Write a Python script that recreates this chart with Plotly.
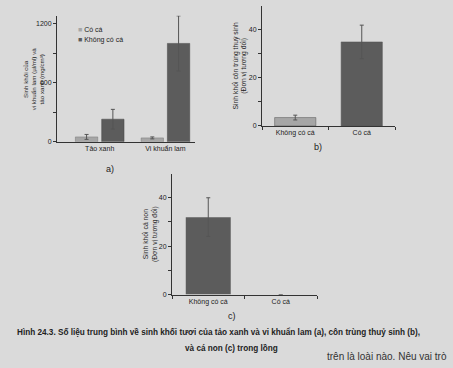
import plotly.graph_objects as go

# ---- data ----
groups_a = ["Tảo xanh", "Vi khuẩn lam"]
co_ca_a = [50, 40]
co_ca_a_err = [25, 10]
khong_ca_a = [230, 1000]
khong_ca_a_err = [100, 280]

cats_b = ["Không có cá", "Có cá"]
vals_b = [3.5, 35]
err_b = [1, 7]

cats_c = ["Không có cá", "Có cá"]
vals_c = [32, 0]
err_c = [8, None]

LIGHT = "#a6a6a6"
DARK = "#5c5c5c"
BG = "#dadada"
AX = "#333333"
FONT = "Liberation Sans"

fig = go.Figure()

fig.add_trace(go.Bar(x=groups_a, y=co_ca_a, name="Có cá", marker_color=LIGHT,
                     marker_line=dict(color="#777", width=0.5),
                     error_y=dict(type="data", array=co_ca_a_err, color="#555", thickness=1, width=2),
                     xaxis="x", yaxis="y"))
fig.add_trace(go.Bar(x=groups_a, y=khong_ca_a, name="Không có cá", marker_color=DARK,
                     marker_line=dict(color="#444", width=0.5),
                     error_y=dict(type="data", array=khong_ca_a_err, color="#555", thickness=1, width=2),
                     xaxis="x", yaxis="y"))

fig.add_trace(go.Bar(x=cats_b, y=vals_b, marker_color=[LIGHT, DARK], width=0.62,
                     marker_line=dict(color="#555", width=0.5),
                     error_y=dict(type="data", array=err_b, color="#555", thickness=1, width=2),
                     showlegend=False, xaxis="x2", yaxis="y2"))

fig.add_trace(go.Bar(x=cats_c, y=vals_c, marker_color=[DARK, DARK], width=0.62,
                     marker_line=dict(width=0),
                     error_y=dict(type="data", array=err_c, color="#555", thickness=1, width=2),
                     showlegend=False, xaxis="x3", yaxis="y3"))

W, H = 453, 368
def px(x):
    return x / W
def py(y):
    return 1 - y / H

axis_common = dict(showline=True, linecolor=AX, linewidth=1, showgrid=False, zeroline=False,
                   tickfont=dict(family=FONT, size=7, color="#222"), fixedrange=True)

fig.update_layout(
    width=W, height=H,
    margin=dict(l=0, r=0, t=0, b=0),
    paper_bgcolor=BG, plot_bgcolor=BG,
    barmode="group", bargap=0.2, bargroupgap=0.15,
    font=dict(family=FONT, color="#222"),
    showlegend=False,
    xaxis=dict(domain=[px(57), px(195)], range=[-0.65, 1.45], anchor="y",
               ticks="", **axis_common),
    yaxis=dict(domain=[py(143), py(16)], range=[0, 1280], anchor="x",
               tickvals=[0, 300, 600, 900, 1200], ticktext=["0", "", "600", "", "1200"],
               ticks="outside", ticklen=3, tickcolor=AX, **axis_common),
    xaxis2=dict(domain=[px(262), px(395)], range=[-0.5, 1.5], anchor="y2",
                ticks="outside", tickson="boundaries", ticklen=3, tickcolor=AX, **axis_common),
    yaxis2=dict(domain=[py(127), py(6)], range=[0, 50], anchor="x2",
                tickvals=[0, 10, 20, 30, 40], ticktext=["0", "", "20", "", "40"],
                ticks="outside", ticklen=3, tickcolor=AX, **axis_common),
    xaxis3=dict(domain=[px(172), px(317)], range=[-0.5, 1.5], anchor="y3",
                ticks="outside", tickson="boundaries", ticklen=3, tickcolor=AX, **axis_common),
    yaxis3=dict(domain=[py(297), py(175)], range=[0, 50], anchor="x3",
                tickvals=[0, 10, 20, 30, 40], ticktext=["0", "", "20", "", "40"],
                ticks="outside", ticklen=3, tickcolor=AX, **axis_common),
)

ann = [
    dict(x=px(76), y=py(30), xanchor="left",
         text=f'<span style="color:{LIGHT}">■</span> Có cá', font=dict(size=7)),
    dict(x=px(76), y=py(40), xanchor="left",
         text=f'<span style="color:{DARK}">■</span> Không có cá', font=dict(size=7)),
    dict(x=px(33), y=py(80), text="Sinh khối của<br>vi khuẩn lam (µl/ml) và<br>tảo xanh (mg/cm³)",
         textangle=-90, font=dict(size=6.2)),
    dict(x=px(240), y=py(66), text="Sinh khối côn trùng thuỷ sinh<br>(Đơn vị tương đối)",
         textangle=-90, font=dict(size=6.8)),
    dict(x=px(150), y=py(236), text="Sinh khối cá non<br>(Đơn vị tương đối)",
         textangle=-90, font=dict(size=6.8)),
    dict(x=px(110), y=py(170), text="a)", font=dict(size=9)),
    dict(x=px(318), y=py(148), text="b)", font=dict(size=9)),
    dict(x=px(232), y=py(319), text="c)", font=dict(size=9)),
    dict(x=px(218), y=py(335),
         text="<b>Hình 24.3. Số liệu trung bình về sinh khối tươi của tảo xanh và vi khuẩn lam (a), côn trùng thuỷ sinh (b),</b>",
         font=dict(size=8.2)),
    dict(x=px(232), y=py(351), text="<b>và cá non (c) trong lồng</b>",
         font=dict(size=8.2)),
    dict(x=px(449), y=py(359), text="trên là loài nào. Nêu vai trò", xanchor="right",
         font=dict(size=10, color="#333")),
]
for a in ann:
    a.setdefault("xanchor", "center")
    a.update(xref="paper", yref="paper", showarrow=False, yanchor="middle")
    a["font"].setdefault("family", FONT)
    a["font"].setdefault("color", "#222")
fig.update_layout(annotations=ann)

fig.write_html("out.html", config={"displayModeBar": False},
               post_script="document.body.style.margin='0';")
